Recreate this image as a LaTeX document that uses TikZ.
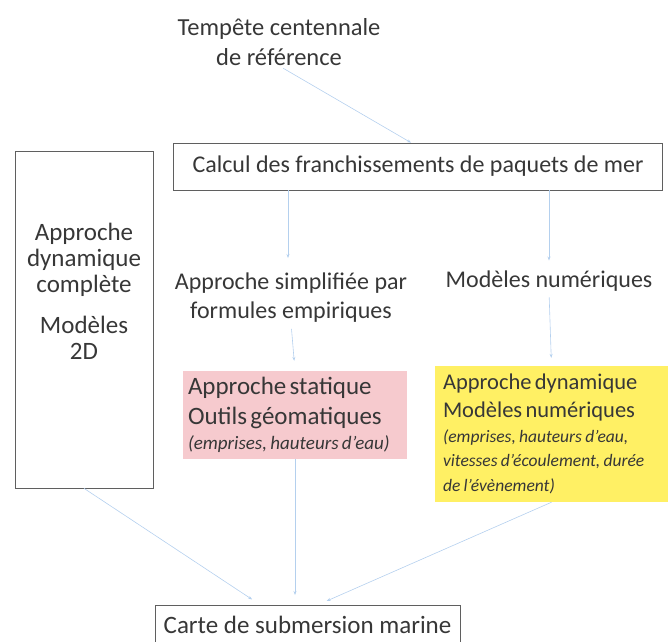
\documentclass[tikz,border=0pt]{standalone}
\usepackage{fontspec}
\setmainfont{Carlito}
\usetikzlibrary{arrows.meta,positioning}

\definecolor{inkgray}{RGB}{55,55,55}
\definecolor{boxgray}{RGB}{95,95,95}
\definecolor{flowblue}{RGB}{180,208,238}
\definecolor{statpink}{RGB}{246,202,206}
\definecolor{dynyellow}{RGB}{255,240,100}

\tikzset{
  txt/.style={text=inkgray, font=\fontsize{24}{29}\selectfont, align=center, inner sep=0pt},
  framebox/.style={draw=boxgray, line width=0.7pt},
  colbox/.style={text=inkgray, align=left, inner xsep=9pt, inner ysep=0pt},
  flow/.style={draw=flowblue, line width=0.6pt, -{Stealth[length=4pt,width=3pt]}}
}

\begin{document}
\begin{tikzpicture}[x=1pt,y=-1pt]
  \useasboundingbox (0,0) rectangle (668,641);

  % haut
  \node[txt, font=\fontsize{24.5}{30}\selectfont] (tempete) at (279,42) {Tempête centennale\\de référence};
  \node[txt, framebox, minimum width=489pt, minimum height=47pt] (calcul) at (418,166.5)
    {Calcul des franchissements de paquets de mer};

  % cadre de gauche
  \node[framebox, minimum width=138pt, minimum height=337pt] (complete) at (84,319.5) {};
  \node[txt, font=\fontsize{25}{26}\selectfont] (completetxt) at (84,291)
    {Approche\\dynamique\\complète\\[15pt]Modèles\\2D};

  % deux voies
  \node[txt] (simplifiee) at (291,298) {Approche simplifiée par\\formules empiriques};
  \node[txt] (numeriques) at (549,281) {Modèles numériques};

  \node[colbox, fill=statpink, minimum width=224pt, minimum height=88pt, text width=214pt,
    inner xsep=5pt] (statique) at (295,415)
    {{\fontsize{25}{30}\selectfont Approche statique\\Outils géomatiques\par}
     {\fontsize{19}{25}\selectfont\itshape (emprises, hauteurs d'eau)\par}};
  \node[colbox, fill=dynyellow, minimum width=233pt, minimum height=136pt, text width=217pt,
    inner xsep=8pt] (dynamique) at (551.5,434)
    {{\fontsize{22.5}{28}\selectfont Approche dynamique\\Modèles numériques\par}
     {\fontsize{17.5}{24.5}\selectfont\itshape (emprises, hauteurs d'eau,\\vitesses d'écoulement, durée\\de l'évènement)\par}};

  % bas
  \node[txt, font=\fontsize{25}{29}\selectfont, framebox, minimum width=305pt, minimum height=40pt,
    anchor=north] (carte) at (307.5,605) {Carte de submersion marine};
  \coordinate (carteA) at ([xshift=-47pt]carte.north);
  \coordinate (carteB) at ([xshift=10pt]carte.north);

  % fleches
  \draw[flow, shorten <=5pt] (tempete.south) -- ([xshift=-7pt]calcul.north);
  \draw[flow, shorten >=10pt] (calcul.south -| 288,0) -- (288,268);
  \draw[flow, shorten >=10pt] (calcul.south -| numeriques.north) -- (numeriques.north);
  \draw[flow, shorten <=6pt, shorten >=10pt] (simplifiee.south) -- (statique.north);
  \draw[flow, shorten <=6pt, shorten >=8pt] (numeriques.south) -- (dynamique.north);
  \draw[flow, shorten >=10pt] (complete.south) -- (carteA);
  \draw[flow, shorten >=10pt] (statique.south) -- (statique.south |- carte.north);
  \draw[flow, shorten >=10pt] (dynamique.south) -- (carteB);
\end{tikzpicture}
\end{document}
